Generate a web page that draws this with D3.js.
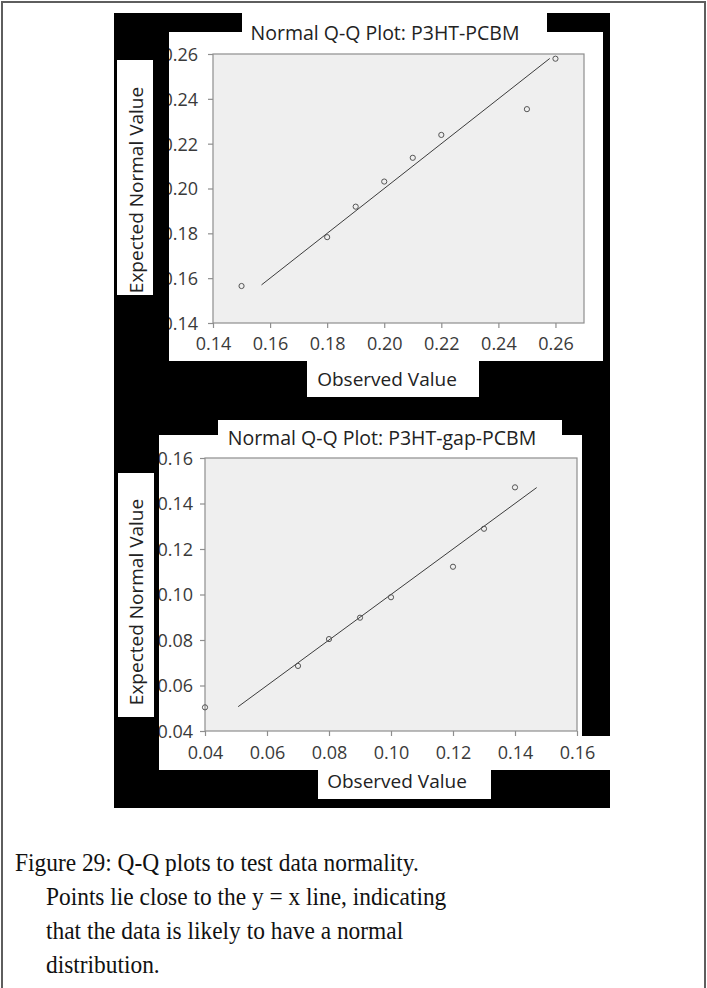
<!DOCTYPE html>
<html>
<head>
<meta charset="utf-8">
<script src="https://cdn.jsdelivr.net/npm/d3@7"></script>
<style>
  html, body { margin: 0; padding: 0; background: #fff; }
  svg { display: block; }
</style>
</head>
<body>
<script>
// ---------- DATA ----------
const xTicksTop = [0.14, 0.16, 0.18, 0.20, 0.22, 0.24, 0.26];
const yTicksTop = [0.14, 0.16, 0.18, 0.20, 0.22, 0.24, 0.26];
const observedTop = [0.15, 0.18, 0.19, 0.20, 0.21, 0.22, 0.25, 0.26];
const expectedTop = [0.1565, 0.1783, 0.1919, 0.2031, 0.2137, 0.2239, 0.2354, 0.2579];
const refLineTop = [0.157, 0.258];

const xTicksBottom = [0.04, 0.06, 0.08, 0.10, 0.12, 0.14, 0.16];
const yTicksBottom = [0.04, 0.06, 0.08, 0.10, 0.12, 0.14, 0.16];
const observedBottom = [0.04, 0.07, 0.08, 0.09, 0.10, 0.12, 0.13, 0.14];
const expectedBottom = [0.0504, 0.0686, 0.0804, 0.0898, 0.0988, 0.1122, 0.1289, 0.1471];
const refLineBottom = [0.0507, 0.147];

const titles = ["Normal Q-Q Plot: P3HT-PCBM", "Normal Q-Q Plot: P3HT-gap-PCBM"];
const xLabel = "Observed Value";
const yLabel = "Expected Normal Value";
const captionLines = [
  "Figure 29: Q-Q plots to test data normality.",
  "Points lie close to the y = x line, indicating",
  "that the data is likely to have a normal",
  "distribution."
];

// ---------- LAYOUT ----------
const W = 707, H = 988;
const svg = d3.select("body").append("svg").attr("width", W).attr("height", H);
svg.append("rect").attr("width", W).attr("height", H).attr("fill", "#fff");

// page border
svg.append("path")
  .attr("d", `M2,${H + 5} L2,2 L705,2 L705,${H + 5}`)
  .attr("fill", "none").attr("stroke", "#5e5e5e").attr("stroke-width", 2);

// black backdrop
svg.append("rect").attr("x", 114).attr("y", 13).attr("width", 496).attr("height", 795).attr("fill", "#000");

const FONT = "'Open Sans', Lato, sans-serif";

const charts = [
  {
    id: "top",
    whites: [
      [242, 13, 305, 20],   // title box
      [169, 32, 434, 329],  // main panel
      [117, 60, 36, 235],   // y label box
      [307, 358, 172, 39]   // x label box
    ],
    clip: [169, 32, 434, 329],
    plot: { x0: 213, x1: 584, y0: 54, y1: 323 },
    xDomain: [0.14, 0.27], yDomain: [0.14, 0.26],
    xTicks: xTicksTop, yTicks: yTicksTop,
    obs: observedTop, exp: expectedTop, ref: refLineTop,
    title: titles[0], titleX: 385, titleY: 40,
    xLabelX: 387, xLabelY: 386,
    yLabelX: 136, yLabelY: 190,
    xTickY: 27, yTickX: -15
  },
  {
    id: "bottom",
    whites: [
      [218, 420, 344, 16],
      [159, 435, 423, 302],
      [159, 736, 451, 34],
      [118, 473, 36, 244],
      [318, 768, 173, 31]
    ],
    clip: [159, 420, 451, 351],
    plot: { x0: 205, x1: 577, y0: 458, y1: 731 },
    xDomain: [0.04, 0.16], yDomain: [0.04, 0.16],
    xTicks: xTicksBottom, yTicks: yTicksBottom,
    obs: observedBottom, exp: expectedBottom, ref: refLineBottom,
    title: titles[1], titleX: 382, titleY: 445,
    xLabelX: 397, xLabelY: 788,
    yLabelX: 136, yLabelY: 602,
    xTickY: 28, yTickX: -12
  }
];

charts.forEach(c => {
  const g = svg.append("g");
  c.whites.forEach(r => {
    g.append("rect").attr("x", r[0]).attr("y", r[1]).attr("width", r[2]).attr("height", r[3]).attr("fill", "#fff");
  });

  const clipId = "clip-" + c.id;
  svg.append("clipPath").attr("id", clipId)
    .append("rect").attr("x", c.clip[0]).attr("y", c.clip[1]).attr("width", c.clip[2]).attr("height", c.clip[3]);

  const x = d3.scaleLinear().domain(c.xDomain).range([c.plot.x0, c.plot.x1]);
  const y = d3.scaleLinear().domain(c.yDomain).range([c.plot.y1, c.plot.y0]);

  // plot area
  g.append("rect")
    .attr("x", c.plot.x0).attr("y", c.plot.y0)
    .attr("width", c.plot.x1 - c.plot.x0).attr("height", c.plot.y1 - c.plot.y0)
    .attr("fill", "#efefef").attr("stroke", "#8e8e8e").attr("stroke-width", 1.2);

  const ag = g.append("g").attr("clip-path", `url(#${clipId})`);

  // x axis
  const xa = ag.append("g").attr("transform", `translate(0,${c.plot.y1})`)
    .call(d3.axisBottom(x).tickValues(c.xTicks).tickFormat(d3.format(".2f")).tickSize(5).tickSizeOuter(0));
  // y axis
  const ya = ag.append("g").attr("transform", `translate(${c.plot.x0},0)`)
    .call(d3.axisLeft(y).tickValues(c.yTicks).tickFormat(d3.format(".2f")).tickSize(5).tickSizeOuter(0));

  [xa, ya].forEach(a => {
    a.select(".domain").remove();
    a.selectAll(".tick line").attr("stroke", "#8e8e8e").attr("stroke-width", 1.2);
    a.selectAll(".tick text").attr("fill", "#3a3a3a").style("font-family", FONT).style("font-size", "18px");
  });
  xa.selectAll(".tick text").attr("y", c.xTickY).attr("dy", 0);
  ya.selectAll(".tick text").attr("x", c.yTickX).attr("dy", "0.36em");

  // reference line y = x
  g.append("line")
    .attr("x1", x(c.ref[0])).attr("y1", y(c.ref[0]))
    .attr("x2", x(c.ref[1])).attr("y2", y(c.ref[1]))
    .attr("stroke", "#3c3c3c").attr("stroke-width", 1);

  // points
  const pts = c.obs.map((v, i) => ({ o: v, e: c.exp[i] }));
  g.selectAll("circle.pt").data(pts).enter().append("circle")
    .attr("class", "pt")
    .attr("cx", d => x(d.o)).attr("cy", d => y(d.e)).attr("r", 2.6)
    .attr("fill", "none").attr("stroke", "#555").attr("stroke-width", 1);

  // title
  g.append("text").attr("x", c.titleX).attr("y", c.titleY).attr("text-anchor", "middle")
    .style("font-family", FONT).style("font-size", "19.5px").attr("fill", "#222").text(c.title);

  // x label
  g.append("text").attr("x", c.xLabelX).attr("y", c.xLabelY).attr("text-anchor", "middle")
    .style("font-family", FONT).style("font-size", "19px").attr("fill", "#222").text(xLabel);

  // y label
  g.append("text")
    .attr("transform", `translate(${c.yLabelX},${c.yLabelY}) rotate(-90)`)
    .attr("text-anchor", "middle").attr("dy", "0.36em")
    .style("font-family", FONT).style("font-size", "19px").attr("fill", "#222").text(yLabel);
});

// caption
const cap = svg.append("g")
  .attr("transform", "scale(0.9,1)")
  .style("font-family", "'Liberation Serif', 'Times New Roman', serif")
  .style("font-size", "26px").attr("fill", "#111");
const capX = [15, 46, 46, 46];
const capY = [871, 905, 939, 973];
captionLines.forEach((t, i) => {
  cap.append("text").attr("x", capX[i] / 0.9).attr("y", capY[i]).text(t);
});
</script>
</body>
</html>
